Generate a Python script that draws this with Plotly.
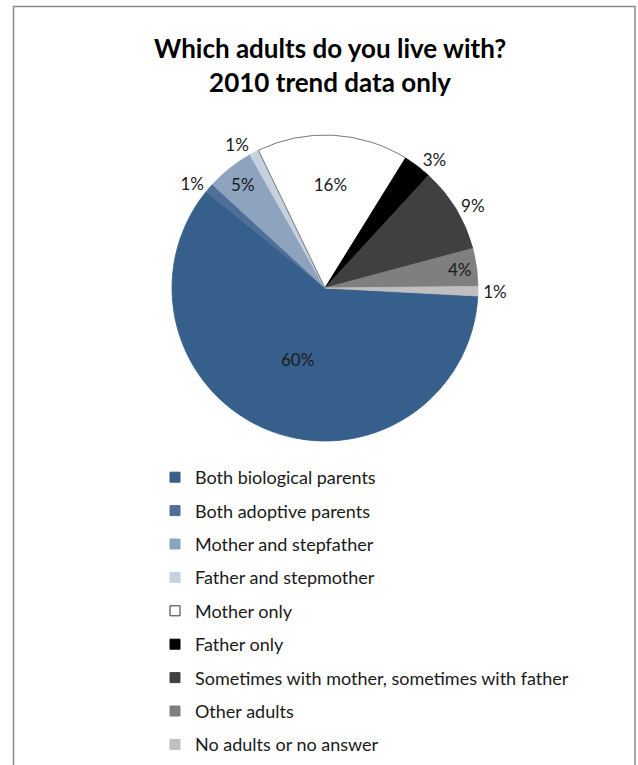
import plotly.graph_objects as go

# Household composition, 2010 trend data
categories = [
    "Both biological parents",
    "Both adoptive parents",
    "Mother and stepfather",
    "Father and stepmother",
    "Mother only",
    "Father only",
    "Sometimes with mother, sometimes with father",
    "Other adults",
    "No adults or no answer",
]
shares = [60, 1, 5, 1, 16, 3, 9, 4, 1]
colors = ["#365F8C", "#4F6F99", "#8EA3BE", "#C6D0DE", "#FFFFFF",
          "#000000", "#404040", "#7F7F7F", "#BFBFBF"]
outlines = ["#365F8C", "#4F6F99", "#8EA3BE", "#C6D0DE", "#555555",
            "#000000", "#404040", "#7F7F7F", "#BFBFBF"]
label_pos = ["inside", "outside", "inside", "outside", "inside",
             "outside", "outside", "inside", "outside"]

W, H = 638, 765
FONT = "Lato"
cx, cy, r = 325, 288, 153

fig = go.Figure()
fig.add_trace(go.Pie(
    labels=categories,
    values=shares,
    sort=False,
    direction="clockwise",
    rotation=93,
    marker=dict(colors=colors, line=dict(color=outlines, width=0.8)),
    texttemplate="%{percent:.0%}",
    textposition=label_pos,
    insidetextorientation="horizontal",
    textfont=dict(family=FONT, size=17, color="#1a1a1a"),
    showlegend=False,
    domain=dict(x=[(cx - r) / W, (cx + r) / W],
                y=[(H - cy - r) / H, (H - cy + r) / H]),
    hoverinfo="label+percent",
))

# Legend entries, one group each so the rows can be spaced apart
for name, c, oc in zip(categories, colors, outlines):
    fig.add_trace(go.Scatter(
        x=[None], y=[None], mode="markers", name=name, legendgroup=name,
        marker=dict(symbol="square", size=10, color=c,
                    line=dict(color=oc if c != "#FFFFFF" else "#333333", width=1)),
    ))

fig.update_layout(
    width=W, height=H,
    margin=dict(l=0, r=0, t=0, b=0),
    paper_bgcolor="white", plot_bgcolor="white",
    xaxis=dict(visible=False), yaxis=dict(visible=False),
    font=dict(family=FONT, color="#1a1a1a"),
    legend=dict(
        x=(175 - 20) / W, xanchor="left",
        y=(H - 459) / H, yanchor="top",
        traceorder="grouped", tracegroupgap=7,
        font=dict(family=FONT, size=18, color="#1a1a1a"),
        bgcolor="rgba(0,0,0,0)",
    ),
    annotations=[dict(
        text="<b>Which adults do you live with?<br>2010 trend data only</b>",
        x=330 / W, y=(H - 65) / H, xref="paper", yref="paper",
        xanchor="center", yanchor="middle", showarrow=False,
        font=dict(family=FONT, size=26, color="#000000"),
    )],
    shapes=[dict(
        type="rect", xref="paper", yref="paper",
        x0=13.5 / W, x1=635 / W, y0=-0.05, y1=(H - 6.5) / H,
        line=dict(color="#8a8a8a", width=1.5), fillcolor="rgba(0,0,0,0)",
    )],
)

fig.write_html("out.html")
